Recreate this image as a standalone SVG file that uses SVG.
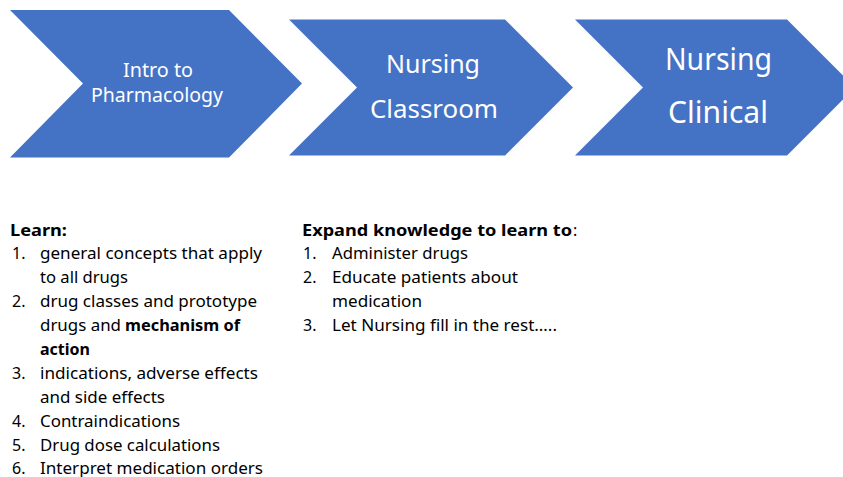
<svg xmlns="http://www.w3.org/2000/svg" width="843" height="477" viewBox="0 0 843 477">
  <style>
    .chev { fill: #4472C4; }
    .chev-label { font-family: "Noto Sans", "Open Sans", sans-serif; fill: #ffffff; text-anchor: middle; }
    .body { font-family: "Noto Sans", "Open Sans", sans-serif; font-size: 16px; fill: #000000; }
    .bold { font-weight: bold; }
  </style>
  <rect width="843" height="477" fill="#ffffff"/>

  <!-- Process stages -->
  <g id="stage-intro">
    <path class="chev" d="M10,10 L229,10 L302,83.5 L229,157.5 L10,157.5 L83,83.5 Z"/>
    <text class="chev-label" font-size="20" x="158" y="77" textLength="70" lengthAdjust="spacingAndGlyphs">Intro to</text>
    <text class="chev-label" font-size="20" x="157" y="101.5" textLength="132" lengthAdjust="spacingAndGlyphs">Pharmacology</text>
  </g>

  <g id="stage-classroom">
    <path class="chev" d="M289,19.5 L505,19.5 L573,87.5 L505,155.5 L289,155.5 L357,87.5 Z"/>
    <text class="chev-label" font-size="25" x="433" y="72.7" textLength="94" lengthAdjust="spacingAndGlyphs">Nursing</text>
    <text class="chev-label" font-size="25" x="434" y="118.3" textLength="128" lengthAdjust="spacingAndGlyphs">Classroom</text>
  </g>

  <g id="stage-clinical">
    <path class="chev" d="M575,19.5 L787,19.5 L855,87.5 L787,155.5 L575,155.5 L643,87.5 Z"/>
    <text class="chev-label" font-size="30" x="718.5" y="70" textLength="107" lengthAdjust="spacingAndGlyphs">Nursing</text>
    <text class="chev-label" font-size="30" x="718" y="122.7" textLength="100" lengthAdjust="spacingAndGlyphs">Clinical</text>
  </g>

  <!-- Learning goals for the pharmacology course -->
  <g id="list-learn" class="body">
    <text class="bold" x="10" y="235.5" textLength="57" lengthAdjust="spacingAndGlyphs">Learn:</text>

    <text x="12" y="258.5">1.</text>
    <text x="40" y="258.5" textLength="222" lengthAdjust="spacingAndGlyphs">general concepts that apply</text>
    <text x="40" y="282.6" textLength="88" lengthAdjust="spacingAndGlyphs">to all drugs</text>

    <text x="12" y="306.7">2.</text>
    <text x="40" y="306.7" textLength="217" lengthAdjust="spacingAndGlyphs">drug classes and prototype</text>
    <text x="40" y="330.8" textLength="81" lengthAdjust="spacingAndGlyphs">drugs and</text>
    <text class="bold" x="125" y="330.8" textLength="115" lengthAdjust="spacingAndGlyphs">mechanism of</text>
    <text class="bold" x="40" y="354.9" textLength="50" lengthAdjust="spacingAndGlyphs">action</text>

    <text x="12" y="379">3.</text>
    <text x="40" y="379" textLength="218" lengthAdjust="spacingAndGlyphs">indications, adverse effects</text>
    <text x="40" y="403.1" textLength="125" lengthAdjust="spacingAndGlyphs">and side effects</text>

    <text x="12" y="427.2">4.</text>
    <text x="40" y="427.2" textLength="140" lengthAdjust="spacingAndGlyphs">Contraindications</text>

    <text x="12" y="451.3">5.</text>
    <text x="40" y="451.3" textLength="180" lengthAdjust="spacingAndGlyphs">Drug dose calculations</text>

    <text x="12" y="473.5">6.</text>
    <text x="40" y="473.5" textLength="223" lengthAdjust="spacingAndGlyphs">Interpret medication orders</text>
  </g>

  <!-- Goals carried into nursing -->
  <g id="list-expand" class="body">
    <text class="bold" x="302" y="235.5" textLength="270" lengthAdjust="spacingAndGlyphs">Expand knowledge to learn to</text>
    <text x="573" y="235.5">:</text>

    <text x="303" y="258.5">1.</text>
    <text x="332" y="258.5" textLength="136" lengthAdjust="spacingAndGlyphs">Administer drugs</text>

    <text x="303" y="282.6">2.</text>
    <text x="332" y="282.6" textLength="186" lengthAdjust="spacingAndGlyphs">Educate patients about</text>
    <text x="332" y="306.7" textLength="90" lengthAdjust="spacingAndGlyphs">medication</text>

    <text x="303" y="330.8">3.</text>
    <text x="332" y="330.8" textLength="225" lengthAdjust="spacingAndGlyphs">Let Nursing fill in the rest…..</text>
  </g>
</svg>
